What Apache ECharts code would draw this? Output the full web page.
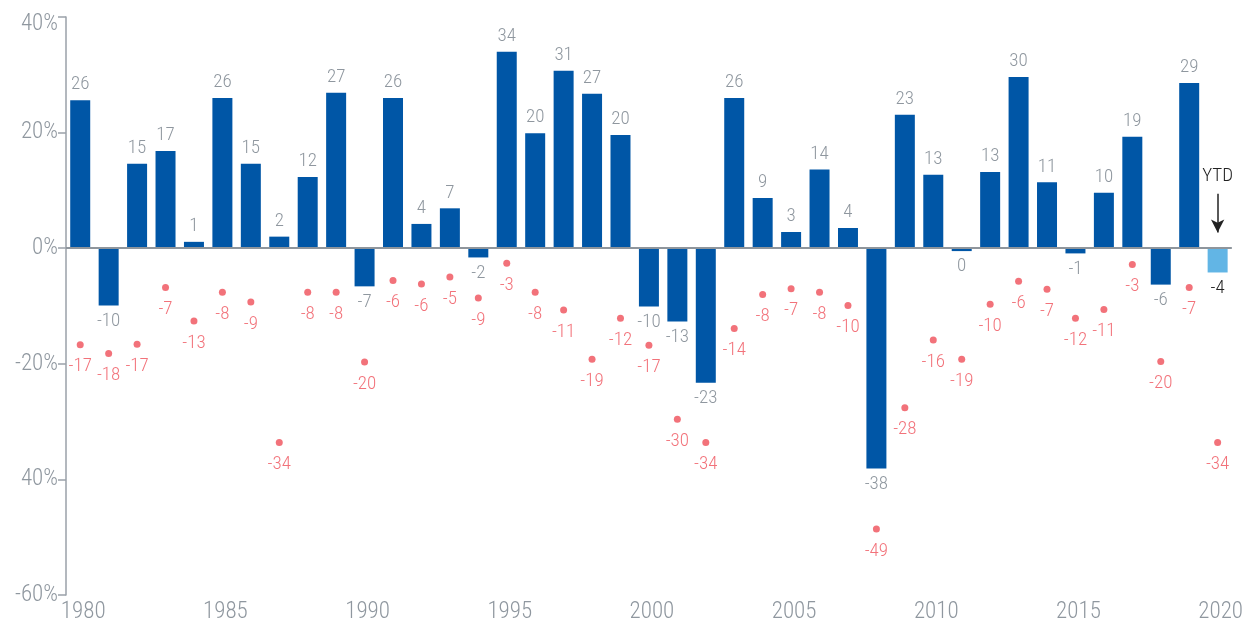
<!DOCTYPE html>
<html>
<head>
<meta charset="utf-8">
<script src="https://cdn.jsdelivr.net/npm/echarts@6/dist/echarts.min.js"></script>
<style>html,body{margin:0;padding:0;background:#fff}#c{width:1246px;height:626px}</style>
</head>
<body>
<div id="c"></div>
<script>
// ---- data ----
var years = ['1980','1981','1982','1983','1984','1985','1986','1987','1988','1989',
             '1990','1991','1992','1993','1994','1995','1996','1997','1998','1999',
             '2000','2001','2002','2003','2004','2005','2006','2007','2008','2009',
             '2010','2011','2012','2013','2014','2015','2016','2017','2018','2019','2020'];
var annualReturns = [25.6,-9.9,14.6,16.8,1.1,26.0,14.6,2.0,12.3,26.9,
                     -6.6,26.0,4.2,6.9,-1.6,34.0,19.9,30.7,26.7,19.6,
                     -10.1,-12.7,-23.3,26.0,8.7,2.8,13.6,3.5,-38.1,23.1,
                     12.7,-0.5,13.2,29.6,11.4,-0.9,9.6,19.3,-6.3,28.6,-4.2];
var intraYearDeclines = [-16.7,-18.2,-16.6,-6.8,-12.6,-7.6,-9.3,-33.6,-7.6,-7.6,
                         -19.7,-5.6,-6.2,-5.0,-8.6,-2.6,-7.6,-10.7,-19.2,-12.1,
                         -16.8,-29.6,-33.6,-13.9,-8.0,-7.0,-7.6,-9.9,-48.6,-27.6,
                         -15.9,-19.2,-9.7,-5.7,-7.1,-12.1,-10.6,-2.8,-19.6,-6.8,-33.6];
var yTickLabels = {'40':'40%','20':'20%','0':'0%','-20':'-20%','-40':'40%','-60':'-60%'};
var ytdLabel = 'YTD';
var ytdYear = '2020';
var ytdTextAt = 12.4, ytdArrowFrom = 9.4, ytdArrowTo = 2.7;

// ---- styles ----
var FONT = '"Roboto Condensed","Liberation Sans Narrow","DejaVu Sans Condensed","Roboto",sans-serif';
var WEIGHT = 300;
var GRAY = '#8f979f';
var AXIS = '#9aa1a9';
var BLUE = '#0056a6';
var LIGHT = '#62b5e5';
var RED = '#ef4f59';
var DARK = '#222222';
var last = years.length - 1;

var barData = annualReturns.map(function (v, i) {
  var item = {
    value: v,
    label: {
      position: v >= 0 ? 'top' : 'bottom',
      distance: 6,
      color: i === last ? DARK : GRAY
    }
  };
  if (i === last) item.itemStyle = { color: LIGHT };
  return item;
});

var chart = echarts.init(document.getElementById('c'), null, { renderer: 'canvas' });
chart.setOption({
  animation: false,
  backgroundColor: '#ffffff',
  grid: { left: 66, right: 14, top: 17, bottom: 31 },
  xAxis: {
    type: 'category',
    data: years,
    axisLine: { show: false },
    axisTick: { show: false },
    axisLabel: {
      interval: 4,
      color: GRAY,
      fontFamily: FONT,
      fontWeight: WEIGHT,
      fontSize: 23,
      margin: 6,
      padding: [0, 0, 0, 6]
    }
  },
  yAxis: {
    type: 'value',
    min: -60, max: 40, interval: 20,
    splitLine: { show: false },
    axisLine: { show: true, lineStyle: { color: AXIS, width: 1.5 } },
    axisTick: { show: true, length: 8, lineStyle: { color: AXIS, width: 1.5 } },
    axisLabel: {
      color: GRAY,
      fontFamily: FONT,
      fontWeight: WEIGHT,
      fontSize: 23,
      margin: 8,
      formatter: function (v) {
        var t = yTickLabels[String(v)];
        return v === 40 ? '{t|' + t + '}' : '{n|' + t + '}';
      },
      rich: {
        t: { color: GRAY, fontFamily: FONT, fontWeight: WEIGHT, fontSize: 23, padding: [14, 0, 0, 0] },
        n: { color: GRAY, fontFamily: FONT, fontWeight: WEIGHT, fontSize: 23 }
      }
    }
  },
  series: [
    {
      type: 'bar',
      data: barData,
      barWidth: 20,
      itemStyle: { color: BLUE },
      label: {
        show: true,
        fontFamily: FONT,
        fontWeight: WEIGHT,
        fontSize: 19,
        formatter: function (p) { var r = Math.round(p.value); return String(r === 0 ? 0 : r); }
      },
      markLine: {
        silent: true,
        symbol: 'none',
        label: { show: false },
        lineStyle: { color: '#8e959c', width: 2, type: 'solid' },
        data: [{ yAxis: 0 }],
        z: 5
      }
    },
    {
      type: 'scatter',
      data: intraYearDeclines,
      symbol: 'circle',
      symbolSize: 7,
      itemStyle: { color: RED },
      label: {
        show: true,
        position: 'bottom',
        distance: 9,
        color: RED,
        fontFamily: FONT,
        fontWeight: WEIGHT,
        fontSize: 19,
        formatter: function (p) { return String(Math.round(p.value)); }
      },
      markLine: {
        silent: true,
        symbol: ['none', 'arrow'],
        symbolSize: [10, 13],
        label: { show: false },
        lineStyle: { color: DARK, width: 1.5, type: 'solid' },
        data: [[{ coord: [ytdYear, ytdArrowFrom] }, { coord: [ytdYear, ytdArrowTo] }]]
      },
      markPoint: {
        silent: true,
        symbolSize: 0,
        label: {
          show: true,
          position: 'inside',
          color: DARK,
          fontFamily: FONT,
          fontWeight: WEIGHT,
          fontSize: 19,
          formatter: ytdLabel
        },
        data: [{ coord: [ytdYear, ytdTextAt] }]
      }
    }
  ]
});
</script>
</body>
</html>
